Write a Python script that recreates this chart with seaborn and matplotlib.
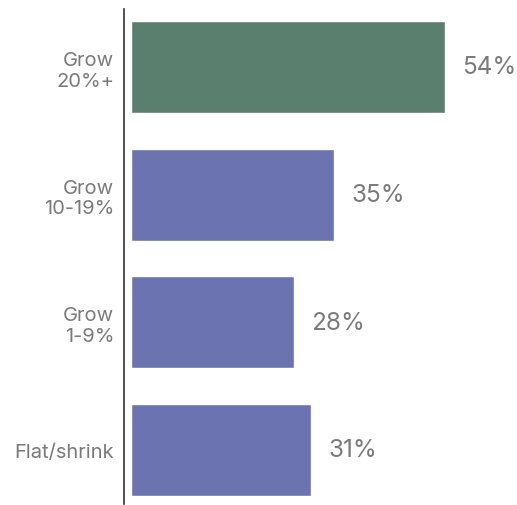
import matplotlib
matplotlib.use("Agg")
import matplotlib.pyplot as plt
import seaborn as sns
import pandas as pd

categories = ["Grow\n20%+", "Grow\n10-19%", "Grow\n1-9%", "Flat/shrink"]
values = [54, 35, 28, 31]
labels = ["54%", "35%", "28%", "31%"]
colors = ["#5b7f6e", "#6b74b0", "#6b74b0", "#6b74b0"]

sns.set_theme(style="white")
plt.rcParams["font.family"] = ["Inter", "DejaVu Sans"]

df = pd.DataFrame({"cat": categories, "val": values})
fig = plt.figure(figsize=(5.17, 5.06), dpi=100)
ax = fig.add_axes([124/517, 1-505/506, (517-124)/517, (505-10)/506])
sns.barplot(data=df, x="val", y="cat", hue="cat", palette=colors, legend=False,
            width=0.72, ax=ax, saturation=1)
ax.set_xlim(-1.2, 66.4)
ax.set_ylim(3.423, -0.454)
for i, (v, t) in enumerate(zip(values, labels)):
    ax.text(v + 3.0, i, t, va="center", ha="left", fontsize=17.5, color="#7a7a7a")
for s in ["top", "right", "bottom"]:
    ax.spines[s].set_visible(False)
ax.spines["left"].set_color("#333333")
ax.spines["left"].set_linewidth(1.2)
ax.set_xticks([])
ax.set_xlabel("")
ax.set_ylabel("")
ax.tick_params(axis="y", length=0, pad=7, labelsize=14.5, labelcolor="#7a7a7a")
for lab in ax.get_yticklabels():
    lab.set_horizontalalignment("right")
    lab.set_multialignment("right")
    lab.set_linespacing(1.2)
fig.savefig("out.png", dpi=100)
